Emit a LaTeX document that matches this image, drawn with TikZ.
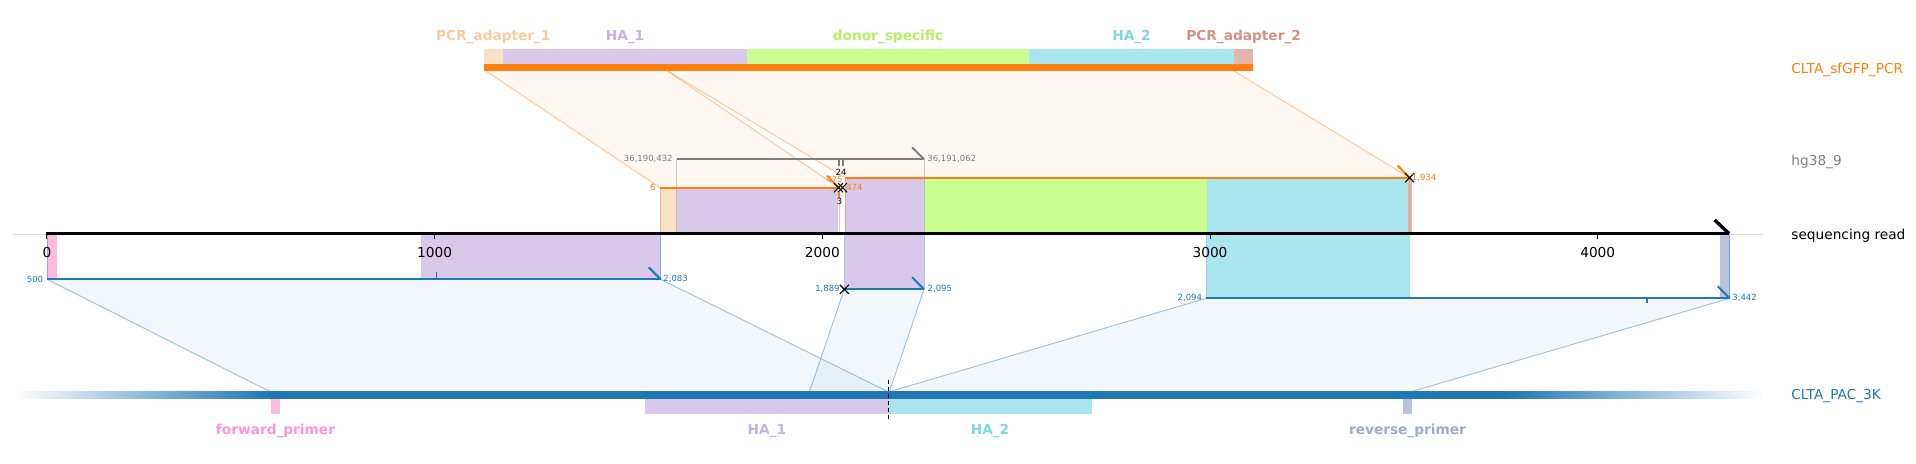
\documentclass[tikz,border=0pt]{standalone}
\usepackage{fontspec}
\setmainfont{DejaVu Sans}
\usetikzlibrary{positioning, calc, shapes.misc}
\definecolor{corg}{RGB}{255,127,14}
\definecolor{cblu}{RGB}{31,119,180}
\definecolor{cgry}{RGB}{127,127,127}
% feature fills (f..) and feature labels (l..)
\definecolor{fpa1}{RGB}{250,224,196}  \definecolor{lpa1}{RGB}{247,204,158}
\definecolor{fha1}{RGB}{216,200,234}  \definecolor{lha1}{RGB}{197,177,226}
\definecolor{fdon}{RGB}{200,255,144}  \definecolor{ldon}{RGB}{176,242,100}
\definecolor{fha2}{RGB}{169,230,239}  \definecolor{lha2}{RGB}{128,214,230}
\definecolor{fpa2}{RGB}{226,182,170}  \definecolor{lpa2}{RGB}{214,146,128}
\definecolor{ffwd}{RGB}{255,187,222}  \definecolor{lfwd}{RGB}{255,150,212}
\definecolor{frev}{RGB}{185,195,222}  \definecolor{lrev}{RGB}{156,170,206}
% bar of CLTA_PAC_3K, fading out at both ends
\pgfdeclarehorizontalshading{pacfade}{100bp}{color(0bp)=(white);
  color(25bp)=(white); color(32.25bp)=(cblu); color(67.65bp)=(cblu);
  color(75bp)=(white); color(100bp)=(white)}
\tikzset{
  featlbl/.style  = {font=\bfseries\fontsize{6.85}{8}\selectfont, inner sep=0pt},
  tracklbl/.style = {font=\fontsize{6.85}{8}\selectfont, inner sep=0pt, anchor=west},
  ticklbl/.style  = {font=\fontsize{6.85}{8}\selectfont, inner sep=0pt},
  poslbl/.style   = {font=\fontsize{4.25}{5}\selectfont, inner sep=0pt},
  aln/.style      = {line width=1pt},
  hookln/.style   = {line width=1pt},
  slant/.style    = {line width=0.5pt, draw opacity=0.4},
  aliband/.style  = {fill opacity=0.06},
  xmk/.style      = {cross out, draw=black, line width=0.55pt,
                     minimum size=4pt, inner sep=0pt},
}

\begin{document}
\begin{tikzpicture}[x=0.5pt, y=-0.5pt]

\useasboundingbox (0,0) rectangle (1916,464);

% ── Row y-coordinates (px of the figure, top → bottom) ─────────────────
\def\yFt{49}      % CLTA_sfGFP_PCR feature boxes
\def\yFb{63.7}
\def\yRl{71}      % bottom of its orange bar
\def\yHg{159.3}   % hg38_9 alignment
\def\yOb{177.7}   % sfGFP alignment, 2nd part
\def\yOa{187.7}   % sfGFP alignment, 1st part
\def\yRd{233.5}   % sequencing read
\def\yBa{279.3}   % CLTA_PAC_3K alignments
\def\yBb{289.3}
\def\yBc{298.3}
\def\yPt{392}     % CLTA_PAC_3K bar
\def\yPb{399}
\def\yPf{413.7}   % its feature boxes

% ── Alignment end points ───────────────────────────────────────────────
\coordinate (rd0) at (45.5,\yRd);   \coordinate (rd1) at (1729,\yRd);
\coordinate (ra1) at (486,\yRl);    \coordinate (ra2) at (667.6,\yRl);
\coordinate (rb2) at (1234,\yRl);
\coordinate (oa1) at (660,\yOa);    \coordinate (oa2) at (839,\yOa);
\coordinate (ob1) at (845,\yOb);    \coordinate (ob2) at (1409.6,\yOb);
\coordinate (hg1) at (676.7,\yHg);  \coordinate (hg2) at (924,\yHg);
\coordinate (ba1) at (47,\yBa);     \coordinate (ba2) at (660.7,\yBa);
\coordinate (bb1) at (844.3,\yBb);  \coordinate (bb2) at (924,\yBb);
\coordinate (bc1) at (1206,\yBc);   \coordinate (bc2) at (1729.8,\yBc);
\coordinate (pa1) at (270.7,\yPt);  \coordinate (cut) at (888.5,\yPt);
\coordinate (pb1) at (809.3,\yPt);  \coordinate (pb2) at (889.3,\yPt);
\coordinate (pc2) at (1410.2,\yPt);

% ── Shaded alignment bands ─────────────────────────────────────────────
\fill[corg, aliband] (ra1) -- (ra2) -- (oa2) -- (oa1) -- cycle;
\fill[corg, aliband] (ra2) -- (rb2) -- (ob2) -- (ob1) -- cycle;
\fill[cblu, aliband] (ba1) -- (ba2) -- (cut) -- (pa1) -- cycle;
\fill[cblu, aliband] (bb1) -- (bb2) -- (pb2) -- (pb1) -- cycle;
\fill[cblu, aliband] (bc1) -- (bc2) -- (pc2) -- (cut) -- cycle;
\foreach \a/\b in {ra1/oa1, ra2/oa2, ra2/ob1, rb2/ob2}
  \draw[corg, slant] (\a) -- (\b);
\foreach \a/\b in {ba1/pa1, ba2/cut, bb1/pb1, bb2/pb2, bc1/cut, bc2/pc2}
  \draw[cblu, slant] (\a) -- (\b);

% ── Features on the read ───────────────────────────────────────────────
\fill[fpa1] (660,\yOa)    rectangle (676.7,\yRd);
\fill[fha1] (676.7,\yOa)  rectangle (838,\yRd);
\fill[fha1] (845,\yOb)    rectangle (924,\yBb);
\fill[fdon] (924,\yOb)    rectangle (1207,\yRd);
\fill[fha2] (1207,\yOb)   rectangle (1409.6,\yBc);
\fill[fpa2] (1408,\yOb)   rectangle (1411.5,\yRd);
\fill[ffwd] (46.9,\yRd)   rectangle (57.1,\yBa);
\fill[fha1] (421,\yRd)    rectangle (660.7,\yBa);
\fill[frev] (1720,\yRd)   rectangle (1729.8,\yBc);
\foreach \c in {oa1, oa2, ob1, ob2}
  \draw[corg, slant] (\c) -- (\c |- rd0);
\foreach \c in {hg1, hg2}
  \draw[cgry, slant] (\c) -- (\c |- rd0);
\foreach \c in {ba1, ba2, bb1, bb2, bc1, bc2}
  \draw[cblu, slant] (\c) -- (\c |- rd0);

% ── CLTA_sfGFP_PCR track ───────────────────────────────────────────────
\fill[corg] (483.6,\yFb) rectangle (1253.3,\yRl);
\foreach \xa/\xb/\f in {483.6/503/fpa1, 503/747/fha1, 747/1029/fdon,
                        1029/1234/fha2, 1234/1253.3/fpa2}
  \fill[\f] (\xa,\yFt) rectangle (\xb,\yFb);
\foreach \n/\x/\c/\t in {tpa1/493.3/lpa1/PCR\_adapter\_1, tha1/625/lha1/HA\_1,
                         tdon/888/ldon/donor\_specific, tha2/1131.5/lha2/HA\_2,
                         tpa2/1243.6/lpa2/PCR\_adapter\_2}
  \node[featlbl, text=\c] (\n) at (\x,37.4) {\t};

% ── CLTA_PAC_3K track ──────────────────────────────────────────────────
\shade[shading=pacfade] (15.6,\yPt) rectangle (1763,\yPb);
\foreach \xa/\xb/\f in {271/280/ffwd, 645/888.5/fha1, 888.5/1091.8/fha2,
                        1403/1412/frev}
  \fill[\f] (\xa,\yPb) rectangle (\xb,\yPf);
\foreach \n/\x/\c/\t in {bfwd/275.5/lfwd/forward\_primer, bha1/766.8/lha1/HA\_1,
                         bha2/990/lha2/HA\_2, brev/1407.5/lrev/reverse\_primer}
  \node[featlbl, text=\c] (\n) at (\x,431.3) {\t};
\draw[line width=0.7pt, dash pattern=on 2pt off 1.5pt]
  (cut) ++(0,-12) -- ++(0,40);

% ── Sequencing read axis ───────────────────────────────────────────────
\draw[black!12, line width=0.5pt] (13.4,234.7) -- (1763,234.7);
\draw[line width=1.7pt] (rd0) -- (rd1);
\draw[line width=1.7pt] (rd1) -- ++(-14.4,-13.5);
\foreach \k/\lab in {0/0, 1/1000, 2/2000, 3/3000, 4/4000} {
  \pgfmathsetmacro\xt{46.9+387.7*\k}
  \draw[line width=0.5pt] (\xt,235) -- (\xt,239);
  \node[ticklbl] (tk\k) at (\xt,252.2) {\lab};
}

% ── Alignment lines, strand hooks, clip marks ──────────────────────────
\draw[corg, aln] (oa1) -- (oa2);
\draw[corg, aln] (ob1) -- (ob2);
\draw[cgry, aln] (hg1) -- (hg2);
\draw[cblu, aln] (ba1) -- (ba2);
\draw[cblu, aln] (bb1) -- (bb2);
\draw[cblu, aln] (bc1) -- (bc2);
\foreach \c/\col in {oa2/corg, ob2/corg, hg2/cgry, ba2/cblu, bb2/cblu, bc2/cblu}
  \draw[\col, hookln] (\c) -- ++(-12,-12);
\node[xmk] (xa1) at (838.5,\yOa) {};
\node[xmk] (xa2) at (842.5,\yOa) {};
\node[xmk] (xb2) at (ob2) {};
\node[xmk] (xbb) at (bb1) {};

% indel marks
\draw[cgry, line width=1pt] (839,\yHg) -- ++(0,7);
\draw[cgry, line width=1pt] (843,\yHg) -- ++(0,7);
\draw[corg, line width=1pt] (839,192) -- (839,198);
\draw[cblu, line width=0.8pt] (436.6,\yBa) -- ++(0,-7);
\draw[cblu, line width=0.8pt] (1646.7,\yBc) -- ++(0,5);
\node[poslbl] (i24) at (841,172.5) {24};
\node[poslbl] (i3)  at (839.5,201) {3};

% ── Coordinates at alignment ends ──────────────────────────────────────
\node[poslbl, text=cgry, anchor=east] (lhg1) at (673,\yHg)    {36,190,432};
\node[poslbl, text=cgry, anchor=west] (lhg2) at (927,\yHg)    {36,191,062};
\node[poslbl, text=corg, anchor=east] (loa1) at (656,\yOa)    {6};
\node[poslbl, text=corg, anchor=west] (loa2) at (846,\yOa)    {474};
\node[poslbl, text=corg]              (lob1) at (834.5,179.3) {475};
\node[poslbl, text=corg, anchor=west] (lob2) at (1411.5,\yOb) {1,934};
\node[poslbl, text=cblu, anchor=east] (lba1) at (43.5,\yBa)   {500};
\node[poslbl, text=cblu, anchor=west] (lba2) at (663,\yBa)    {2,083};
\node[poslbl, text=cblu, anchor=east] (lbb1) at (840,\yBb)    {1,889};
\node[poslbl, text=cblu, anchor=west] (lbb2) at (927.3,\yBb)  {2,095};
\node[poslbl, text=cblu, anchor=east] (lbc1) at (1202.4,\yBc) {2,094};
\node[poslbl, text=cblu, anchor=west] (lbc2) at (1732,\yBc)   {3,442};

% ── Track names ────────────────────────────────────────────────────────
\node[tracklbl, text=corg] (nsf)  at (1791,69.8)  {CLTA\_sfGFP\_PCR};
\node[tracklbl, text=cgry] (nhg)  at (1791,161.5) {hg38\_9};
\node[tracklbl]            (nrd)  at (1791,235.5) {sequencing read};
\node[tracklbl, text=cblu] (npac) at (1791,396.5) {CLTA\_PAC\_3K};

\end{tikzpicture}
\end{document}
